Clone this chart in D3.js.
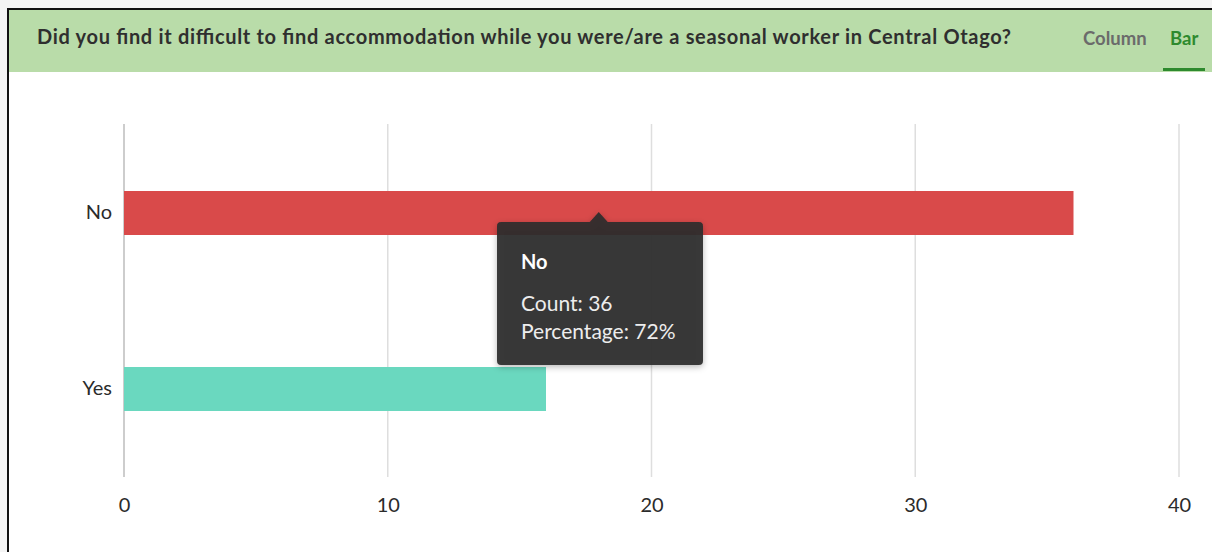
<!DOCTYPE html>
<html>
<head>
<meta charset="utf-8">
<script src="https://cdn.jsdelivr.net/npm/d3@7"></script>
<style>
  html, body { margin: 0; padding: 0; background: #f4f4f4; }
  body { width: 1212px; height: 552px; overflow: hidden; position: relative; font-family: Lato, "Open Sans", sans-serif; }
  #frame { position: absolute; left: 7px; top: 8px; width: 1210px; height: 560px; background: #fff;
           border-left: 2px solid #111; border-top: 2px solid #111; }
  svg { position: absolute; left: 0; top: 0; }
</style>
</head>
<body>
<div id="frame"></div>
<svg id="chart" width="1212" height="552"></svg>
<script>
// Survey answers and counts
const categories = ["No", "Yes"];
const counts = [36, 16];
const percentages = [72, 32];
const barColors = ["#d94a4a", "#6ad8bf"];
const xTicks = [0, 10, 20, 30, 40];
const question = "Did you find it difficult to find accommodation while you were/are a seasonal worker in Central Otago?";
const tabs = ["Column", "Bar"];

const svg = d3.select("#chart");

// Header strip
svg.append("rect").attr("x", 9).attr("y", 10).attr("width", 1203).attr("height", 62).attr("fill", "#b9dca9");
svg.append("text").attr("x", 37).attr("y", 44)
  .attr("font-size", 20).attr("font-weight", 700).attr("fill", "#2f2f2f")
  .attr("textLength", 974).attr("lengthAdjust", "spacing")
  .text(question);
svg.append("text").attr("x", 1083).attr("y", 45).attr("font-size", 18.5).attr("font-weight", 700)
  .attr("fill", "#6b6b6b").text(tabs[0]);
svg.append("text").attr("x", 1170).attr("y", 45).attr("font-size", 18.5).attr("font-weight", 700)
  .attr("fill", "#2e8a2e").text(tabs[1]);
svg.append("rect").attr("x", 1163).attr("y", 68).attr("width", 42).attr("height", 3).attr("fill", "#2e8a2e");

// Scales
const x = d3.scaleLinear().domain([0, 40]).range([124, 1179]);
const y = d3.scaleBand().domain(categories).range([125, 477]).paddingInner(0.75).paddingOuter(0.375);

// Vertical gridlines
svg.append("g").selectAll("line").data(xTicks).join("line")
  .attr("x1", d => x(d)).attr("x2", d => x(d))
  .attr("y1", 124).attr("y2", 477)
  .attr("stroke", d => d === 0 ? "#bdbdbd" : "#dedede").attr("stroke-width", 1.5);

// X axis labels
const xAxis = d3.axisBottom(x).tickValues(xTicks).tickSize(0).tickPadding(0);
const gx = svg.append("g").attr("transform", "translate(0,498)").call(xAxis);
gx.select(".domain").remove();
gx.selectAll("text").attr("font-size", 20).attr("font-family", "Lato, sans-serif").attr("fill", "#2b2b2b");

// Y axis labels
const yAxis = d3.axisLeft(y).tickSize(0).tickPadding(12);
const gy = svg.append("g").attr("transform", "translate(124,0)").call(yAxis);
gy.select(".domain").remove();
gy.selectAll("text").attr("font-size", 20).attr("font-family", "Lato, sans-serif").attr("fill", "#2b2b2b");

// Bars
svg.append("g").selectAll("rect").data(categories).join("rect")
  .attr("x", x(0))
  .attr("y", d => y(d))
  .attr("width", (d, i) => x(counts[i]) - x(0))
  .attr("height", y.bandwidth())
  .attr("fill", (d, i) => barColors[i]);

// Tooltip for the "No" bar
const tip = 0;
const tx = 497, ty = 222, tw = 206, th = 143;
const defs = svg.append("defs");
const f = defs.append("filter").attr("id", "shadow").attr("x", "-10%").attr("y", "-10%").attr("width", "120%").attr("height", "130%");
f.append("feDropShadow").attr("dx", 0).attr("dy", 2).attr("stdDeviation", 3).attr("flood-color", "#000").attr("flood-opacity", 0.3);
const tg = svg.append("g");
const ax = x(counts[tip] / 2);
tg.append("path")
  .attr("d", `M${tx + 4},${ty} H${ax - 9} L${ax},${ty - 10} L${ax + 9},${ty} H${tx + tw - 4} Q${tx + tw},${ty} ${tx + tw},${ty + 4} V${ty + th - 4} Q${tx + tw},${ty + th} ${tx + tw - 4},${ty + th} H${tx + 4} Q${tx},${ty + th} ${tx},${ty + th - 4} V${ty + 4} Q${tx},${ty} ${tx + 4},${ty} Z`)
  .attr("fill", "rgba(45,45,45,0.92)")
  .attr("filter", "url(#shadow)");
tg.append("text").attr("x", tx + 24).attr("y", ty + 47).attr("font-size", 20).attr("font-weight", 700)
  .attr("fill", "#fff").text(categories[tip]);
tg.append("text").attr("x", tx + 24).attr("y", ty + 89).attr("font-size", 21).attr("fill", "#ededed")
  .text(`Count: ${counts[tip]}`);
tg.append("text").attr("x", tx + 24).attr("y", ty + 117).attr("font-size", 21).attr("fill", "#ededed")
  .text(`Percentage: ${percentages[tip]}%`);
</script>
</body>
</html>
